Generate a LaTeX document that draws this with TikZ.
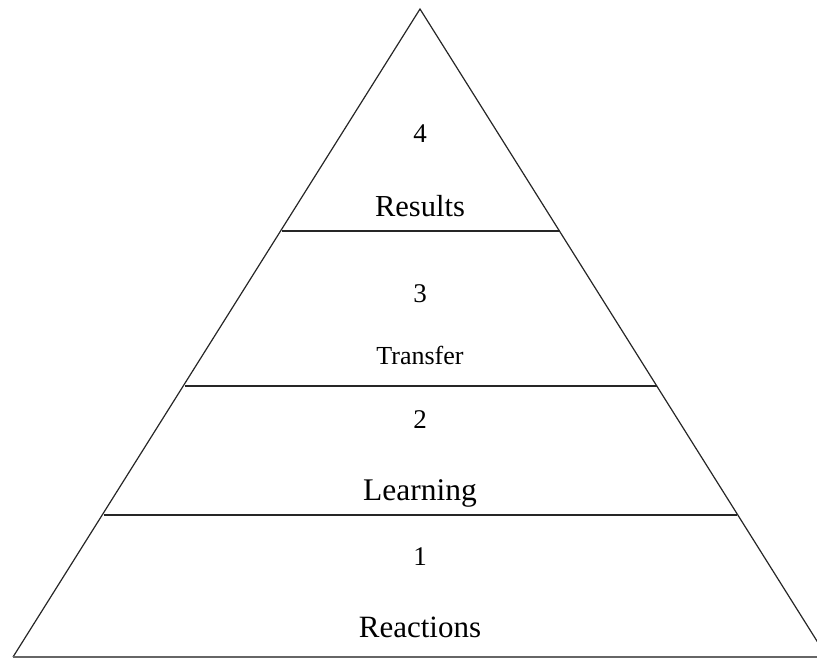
\documentclass[tikz,border=0pt]{standalone}
\usepackage{fontspec}
\setmainfont{Liberation Serif}
\begin{document}
\begin{tikzpicture}[x=1pt,y=-1pt,
  edge/.style={line width=1.2pt,black!85},
  lbl/.style={anchor=base,inner sep=0pt}]
\useasboundingbox (0,0) rectangle (817,659);
\begin{scope}
\clip (0,0) rectangle (817,659);
\coordinate (apex) at (420,9);
\coordinate (bl) at (13,657);
\coordinate (br) at (827,657);
\draw[edge,line join=miter] (bl) -- (apex) -- (br);
\draw[edge,black!60] (bl) -- (817,657);
\end{scope}
\draw[edge] (282,231) -- (560,231);
\draw[edge] (185,386) -- (657,386);
\draw[edge] (104,515) -- (737,515);
\node[lbl,font=\fontsize{27}{30}\selectfont] (n4) at (420,142) {4};
\node[lbl,font=\fontsize{30.5}{33}\selectfont] (w4) at (420,216) {Results};
\node[lbl,font=\fontsize{27}{30}\selectfont] (n3) at (420,302) {3};
\node[lbl,font=\fontsize{26}{29}\selectfont] (w3) at (420,364) {Transfer};
\node[lbl,font=\fontsize{27}{30}\selectfont] (n2) at (420,428) {2};
\node[lbl,font=\fontsize{31.5}{34}\selectfont] (w2) at (420,500) {Learning};
\node[lbl,font=\fontsize{27}{30}\selectfont] (n1) at (420,565) {1};
\node[lbl,font=\fontsize{31}{34}\selectfont] (w1) at (420,637) {Reactions};
\end{tikzpicture}
\end{document}
